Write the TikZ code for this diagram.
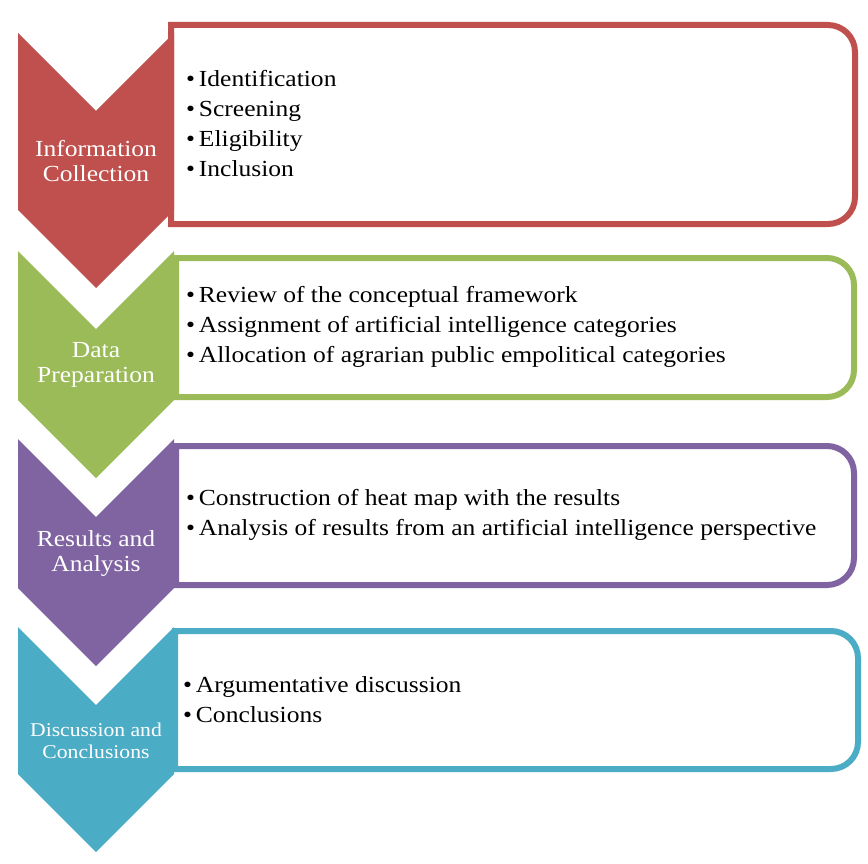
\documentclass[tikz,border=0pt]{standalone}
\usepackage{fontspec}
\setmainfont[FakeStretch=1.11]{Liberation Serif}
\definecolor{cred}{HTML}{C0504D}
\definecolor{cgreen}{HTML}{9BBB59}
\definecolor{cpurple}{HTML}{8064A2}
\definecolor{cteal}{HTML}{4BACC6}
\begin{document}
\begin{tikzpicture}[x=1pt,y=-1pt,
  chevron/.style={fill=#1,draw=none},
  stagebox/.style={draw=#1,line width=6pt,fill=white,line join=miter},
  chevlabel/.style={text=white,align=center,inner sep=0pt,font=\fontsize{23}{25}\selectfont},
  items/.style={anchor=west,align=left,inner sep=0pt,font=\fontsize{23}{30}\selectfont}]
\useasboundingbox[fill=white] (0,0) rectangle (868,864);

% stage 1
\draw[stagebox=cred] (171,25) -- (828,25) arc[start angle=-90,end angle=0,radius=27]
  -- (855,197) arc[start angle=0,end angle=90,radius=27] -- (171,224) -- cycle;
\fill[chevron=cred] (18,33) -- (96,111) -- (174,33) -- (174,210) -- (96,288) -- (18,210) -- cycle;
\node[chevlabel] (l1) at (96,161) {Information\\Collection};
\node[items] (t1) at (186,124) {\textbullet\,Identification\\\textbullet\,Screening\\\textbullet\,Eligibility\\\textbullet\,Inclusion};

% stage 2
\draw[stagebox=cgreen] (176,258) -- (827,258) arc[start angle=-90,end angle=0,radius=27]
  -- (854,370) arc[start angle=0,end angle=90,radius=27] -- (176,397) -- cycle;
\fill[chevron=cgreen] (18,251) -- (96,329) -- (174,251) -- (174,400) -- (96,478) -- (18,400) -- cycle;
\node[chevlabel] (l2) at (96,365) {Data\\Preparation};
\node[items] (t2) at (186,327) {\textbullet\,Review of the conceptual framework\\\textbullet\,Assignment of artificial intelligence categories\\\textbullet\,Allocation of agrarian public empolitical categories};

% stage 3
\draw[stagebox=cpurple] (176,446) -- (827,446) arc[start angle=-90,end angle=0,radius=27]
  -- (854,558) arc[start angle=0,end angle=90,radius=27] -- (176,585) -- cycle;
\fill[chevron=cpurple] (18,439) -- (96,517) -- (174,439) -- (174,588) -- (96,666) -- (18,588) -- cycle;
\node[chevlabel] (l3) at (96,553) {Results and\\Analysis};
\node[items] (t3) at (186,515) {\textbullet\,Construction of heat map with the results\\\textbullet\,Analysis of results from an artificial intelligence perspective};

% stage 4
\draw[stagebox=cteal] (175,631) -- (831,631) arc[start angle=-90,end angle=0,radius=27]
  -- (858,742) arc[start angle=0,end angle=90,radius=27] -- (175,769) -- cycle;
\fill[chevron=cteal] (18,627) -- (96,705) -- (174,627) -- (174,774) -- (96,852) -- (18,774) -- cycle;
\node[chevlabel,font=\fontsize{19.5}{22}\selectfont] (l4) at (96,741) {Discussion and\\Conclusions};
\node[items] (t4) at (183,700) {\textbullet\,Argumentative discussion\\\textbullet\,Conclusions};
\end{tikzpicture}
\end{document}
